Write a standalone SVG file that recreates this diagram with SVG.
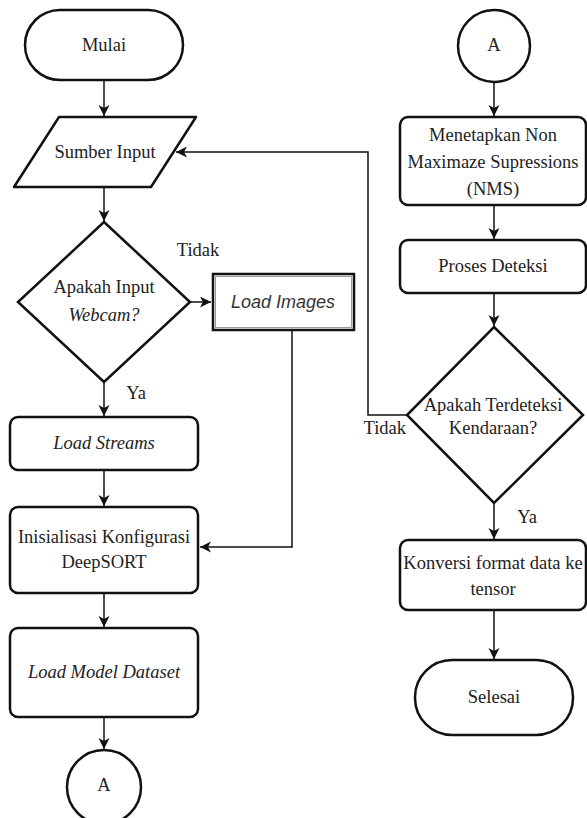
<svg xmlns="http://www.w3.org/2000/svg" width="587" height="818" viewBox="0 0 587 818">
<style>
.n{fill:#fff;stroke:#111;stroke-width:2.5}
.t{font-family:"Liberation Serif","Times New Roman",serif;font-size:18.5px;fill:#222;text-anchor:middle}
.i{font-style:italic}
.s{font-family:"Liberation Sans",Arial,sans-serif;font-size:18px;font-style:italic;fill:#333;text-anchor:middle}
.c{fill:none;stroke:#111;stroke-width:1.5}
</style>
<defs>
<marker id="ah" markerUnits="userSpaceOnUse" markerWidth="12" markerHeight="12" refX="11" refY="5.5" orient="auto">
<path d="M0,0 L11,5.5 L0,11 L3,5.5 z" fill="#111"/>
</marker>
</defs>
<g id="connectors">
<path class="c" d="M104,80 V116" marker-end="url(#ah)"/>
<path class="c" d="M104,187 V221" marker-end="url(#ah)"/>
<path class="c" d="M190,302 H211" marker-end="url(#ah)"/>
<path class="c" d="M292,331 V547 H200" marker-end="url(#ah)"/>
<path class="c" d="M104,382 V416" marker-end="url(#ah)"/>
<path class="c" d="M104,470 V506" marker-end="url(#ah)"/>
<path class="c" d="M104,593 V627" marker-end="url(#ah)"/>
<path class="c" d="M104,717 V749" marker-end="url(#ah)"/>
<path class="c" d="M494,82 V116" marker-end="url(#ah)"/>
<path class="c" d="M494,205 V239" marker-end="url(#ah)"/>
<path class="c" d="M494,293 V326" marker-end="url(#ah)"/>
<path class="c" d="M407,415 H368 V152 H176" marker-end="url(#ah)"/>
<path class="c" d="M494,503 V539" marker-end="url(#ah)"/>
<path class="c" d="M494,610 V659" marker-end="url(#ah)"/>
<text class="t" x="198" y="256">Tidak</text>
<text class="t" x="136" y="399">Ya</text>
<text class="t" x="406" y="434" style="text-anchor:end">Tidak</text>
<text class="t" x="527" y="523">Ya</text>
</g>
<g id="mulai">
<rect class="n" x="25" y="10" width="158" height="70" rx="35"/>
<text class="t" x="104" y="51">Mulai</text>
</g>
<g id="sumber-input">
<path class="n" d="M59,117 H196 L151,187 H14 Z" stroke-linejoin="round"/>
<text class="t" x="105" y="158">Sumber Input</text>
</g>
<g id="cek-webcam">
<path class="n" d="M104,222 L190,302 L104,382 L18,302 Z"/>
<text class="t" x="104" y="293">Apakah Input</text>
<text class="t i" x="104" y="321">Webcam?</text>
</g>
<g id="load-images">
<rect class="n" x="213" y="274" width="141" height="56" stroke-width="3"/>
<rect x="215.5" y="276.5" width="136" height="51" fill="none" stroke="#999" stroke-width="1"/>
<text class="s" x="283" y="308">Load Images</text>
</g>
<g id="load-streams">
<rect class="n" x="10" y="417" width="188" height="53" rx="8"/>
<text class="t i" x="104" y="449">Load Streams</text>
</g>
<g id="inisialisasi">
<rect class="n" x="10" y="507" width="188" height="86" rx="8"/>
<text class="t" x="104" y="543">Inisialisasi Konfigurasi</text>
<text class="t" x="104" y="568">DeepSORT</text>
</g>
<g id="load-model">
<rect class="n" x="10" y="628" width="188" height="89" rx="8"/>
<text class="t i" x="104" y="678">Load Model Dataset</text>
</g>
<g id="konektor-a1">
<circle class="n" cx="104" cy="787" r="37"/>
<text class="t" x="104" y="791">A</text>
</g>
<g id="konektor-a2">
<circle class="n" cx="494" cy="46" r="36"/>
<text class="t" x="494" y="51">A</text>
</g>
<g id="nms">
<rect class="n" x="400" y="117" width="186" height="88" rx="8"/>
<text class="t" x="493" y="141">Menetapkan Non</text>
<text class="t" x="493" y="168">Maximaze Supressions</text>
<text class="t" x="493" y="195">(NMS)</text>
</g>
<g id="proses-deteksi">
<rect class="n" x="400" y="240" width="186" height="53" rx="8"/>
<text class="t" x="493" y="272">Proses Deteksi</text>
</g>
<g id="cek-kendaraan">
<path class="n" d="M494,327 L583,415 L494,503 L407,415 Z"/>
<text class="t" x="493" y="411">Apakah Terdeteksi</text>
<text class="t" x="493" y="434">Kendaraan?</text>
</g>
<g id="konversi">
<rect class="n" x="400" y="540" width="186" height="70" rx="8"/>
<text class="t" x="493" y="569">Konversi format data ke</text>
<text class="t" x="493" y="595">tensor</text>
</g>
<g id="selesai">
<rect class="n" x="415" y="660" width="158" height="75" rx="37"/>
<text class="t" x="494" y="703">Selesai</text>
</g>
</svg>
